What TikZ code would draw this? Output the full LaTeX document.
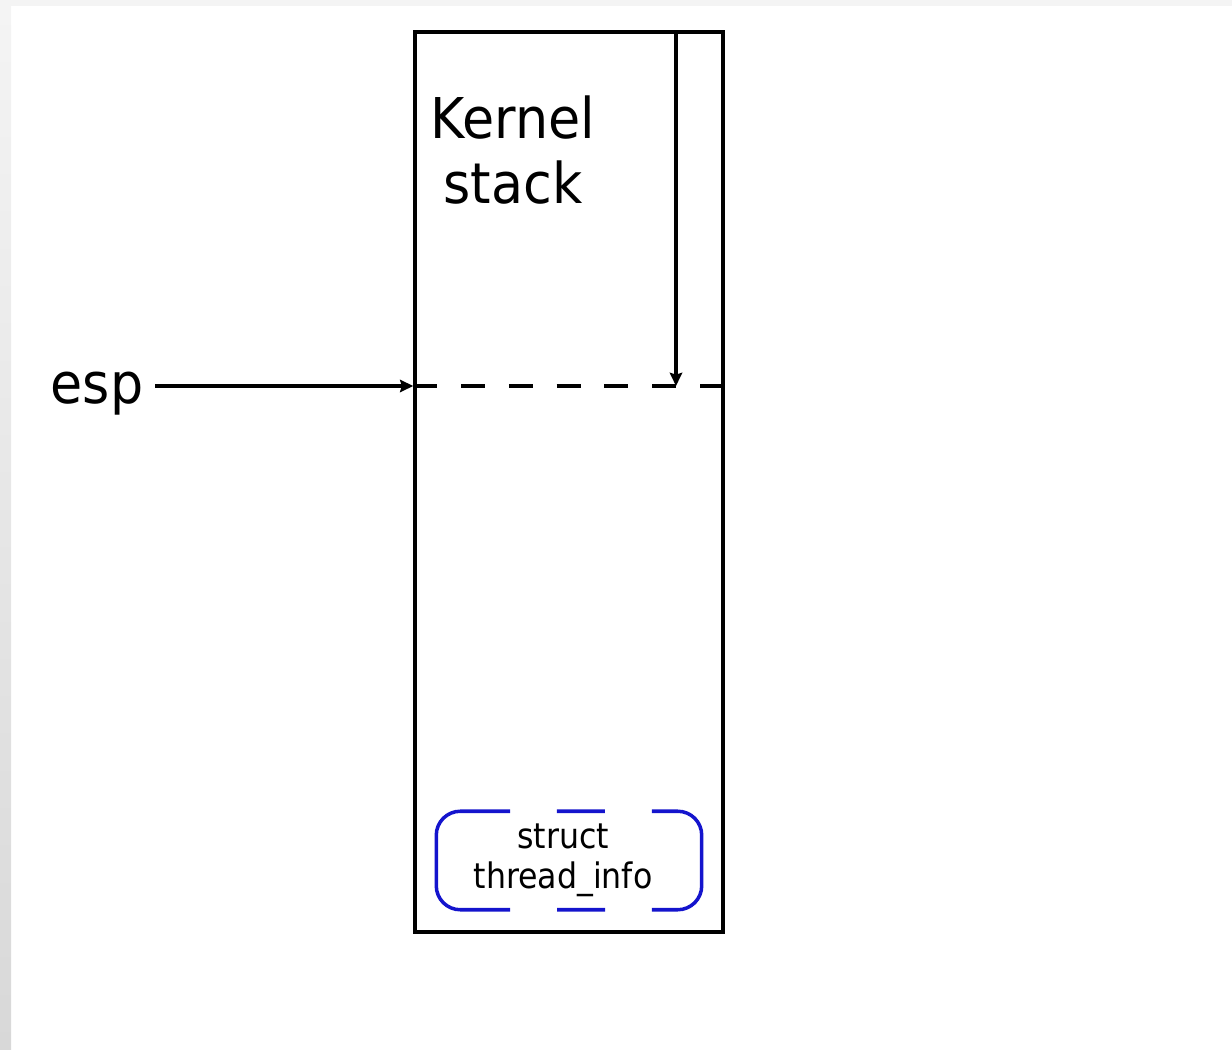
\documentclass[tikz,border=0pt]{standalone}
\usepackage{fontspec}
\setmainfont{DejaVu Sans}
\usepackage{xcolor}
\usepackage{tikz}
\usetikzlibrary{arrows.meta}
\definecolor{infoblue}{RGB}{20,20,205}
\definecolor{edgegray}{RGB}{244,244,244}
\definecolor{edgegraydark}{RGB}{216,216,216}
\newcommand{\narrowtext}[2][0.9]{\scalebox{#1}[1]{#2}}
\begin{document}
\begin{tikzpicture}[x=0.02cm, y=-0.02cm, line width=2pt,
  >={Stealth[length=7.5pt,width=7pt,inset=1pt]},
  stackbox/.style={draw, minimum width=6.16cm, minimum height=18cm, inner sep=0pt},
  splevel/.style={dash pattern=on 13.6pt off 13.6pt},
  infobox/.style={draw=infoblue, rounded corners=0.48cm,
    dash pattern=on 27.3pt off 26.7pt on 101pt off 26.7pt on 27.3pt off 26.7pt on 128.3pt off 26.7pt}]
\useasboundingbox (0,0) rectangle (1232,1050);
\fill[edgegray] (0,0) rectangle (1232,6);
\shade[top color=edgegray, bottom color=edgegraydark] (0,6) rectangle (11,1050);

\node[stackbox] (stack) at (569,482) {};
\node[align=center, inner sep=0pt, font=\fontsize{32pt}{37pt}\selectfont] (title) at (513,150)
  {\narrowtext[0.93]{Kernel}\\\narrowtext[0.93]{stack}};
\node[anchor=base east, inner sep=0.2cm, font=\fontsize{32pt}{37pt}\selectfont] (esp) at (155,404)
  {\narrowtext[0.93]{esp}};

\coordinate (sptop) at (676,32);
\coordinate (sp) at (676,386);

\draw[splevel] (stack.west |- sp) -- (stack.east |- sp);
\draw[->] (sptop) -- (sp);
\draw[->] (esp.east |- sp) -- (stack.west |- sp);

\node[minimum width=5.24cm, minimum height=1.9cm, inner sep=0pt] (info) at (569,860.5) {};
\node[align=center, inner sep=0pt, font=\fontsize{20pt}{22.8pt}\selectfont] (infotext) at (563,860)
  {\narrowtext{struct}\\\narrowtext{thread\_info}};
\draw[infobox] ([xshift=-0.24cm]info.north) -- (info.north east) -- (info.south east)
  -- (info.south west) -- (info.north west) -- ([xshift=-0.24cm]info.north);
\end{tikzpicture}
\end{document}
